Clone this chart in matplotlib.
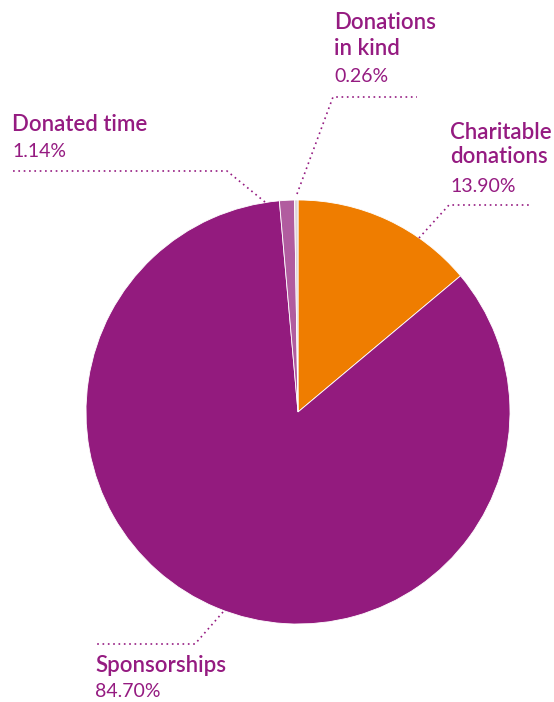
import matplotlib.pyplot as plt

categories = ["Charitable\ndonations", "Sponsorships", "Donated time", "Donations\nin kind"]
values = [13.90, 84.70, 1.14, 0.26]
colors = ["#EF7D00", "#931B7E", "#B15C9F", "#DCD3DA"]

W, H = 554, 702
fig = plt.figure(figsize=(W / 100, H / 100), dpi=100)
ax = fig.add_axes([0, 0, 1, 1])

cx, cy, r = 298, H - 412, 212
ax.pie(values, colors=colors, startangle=90, counterclock=False,
       center=(cx, cy), radius=r, frame=True,
       wedgeprops=dict(linewidth=0.6, edgecolor="white"))
ax.set_xlim(0, W)
ax.set_ylim(0, H)
ax.set_aspect("equal")
ax.axis("off")

purple = "#951B81"
font = "Lato"

def y(py):
    return H - py

# leader lines: (points in pixel coords from top-left)
leaders = [
    [(419, 238), (449, 205), (530, 205)],
    [(223, 612), (195, 644), (95, 644)],
    [(265, 202), (227, 171), (12, 171)],
    [(297, 194), (333, 97), (417, 97)],
]
for pts in leaders:
    xs = [p[0] for p in pts]
    ys = [y(p[1]) for p in pts]
    ax.plot(xs, ys, color=purple, lw=1.2, ls=(0, (1, 2.2)), solid_capstyle="round")

# labels: category lines, then percentage
labels = [
    (450, [139, 163], 192),
    (95, [672], 697),
    (12, [131], 157),
    (334, [29, 55], 82),
]
for (lx, name_bases, pct_base), name, v in zip(labels, categories, values):
    for line, b in zip(name.split("\n"), name_bases):
        ax.text(lx, y(b), line, color=purple, fontsize=16, fontweight="semibold",
                family=font, va="baseline", ha="left")
    ax.text(lx, y(pct_base), f"{v:.2f}%", color=purple, fontsize=14,
            fontweight="normal", family=font, va="baseline", ha="left")

fig.savefig("out.png", dpi=100)
